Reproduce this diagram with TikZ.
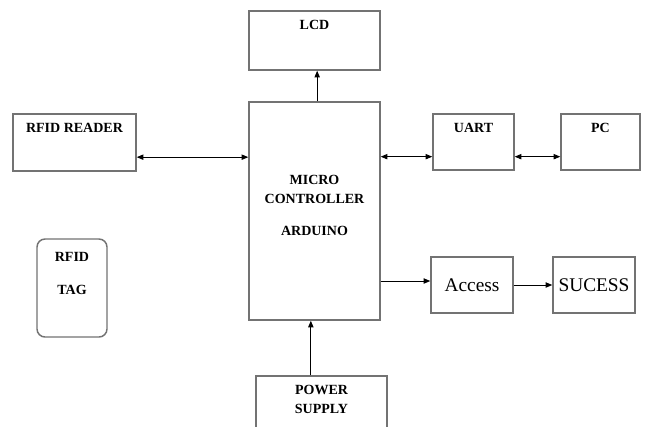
\documentclass[tikz,border=0pt]{standalone}
\usepackage{fontspec}
\setmainfont{Liberation Serif}
\usetikzlibrary{arrows.meta}
\definecolor{boxgray}{RGB}{115,115,115}

\begin{document}
\begin{tikzpicture}[x=0.75pt, y=-0.75pt,
  blk/.style = {draw=boxgray, line width=1.1pt, rectangle, inner sep=0pt},
  lbl/.style = {font=\bfseries\fontsize{10.5}{14.25}\selectfont, align=center, inner sep=0pt},
  big/.style = {font=\fontsize{14.5}{17}\selectfont},
  arr/.style = {-{Triangle[length=5pt,width=4pt]}, line width=0.7pt},
  darr/.style = {{Triangle[length=5pt,width=4pt]}-{Triangle[length=5pt,width=4pt]}, line width=0.7pt}]
\useasboundingbox (0,0) rectangle (646,426);
\fill[white] (0,0) rectangle (646,426);
\clip (0,0) rectangle (646,426);
\node[blk, minimum width=98.25pt, minimum height=44.25pt, label={[lbl, below=7pt]north:LCD}] (lcd) at (314.5,40.5) {};
\node[blk, minimum width=98.25pt, minimum height=163.5pt, label={[lbl, below=55pt]north:MICRO\\CONTROLLER\\[9.75pt]ARDUINO}] (mcu) at (314.5,211) {};
\node[blk, minimum width=92.25pt, minimum height=42.75pt, label={[lbl, below=7.5pt]north:RFID READER}] (rdr) at (74.5,142.5) {};
\node[blk, minimum width=60.75pt, minimum height=42pt, label={[lbl, below=7.5pt]north:UART}] (uart) at (473.5,142) {};
\node[blk, minimum width=59.25pt, minimum height=42pt, label={[lbl, below=7.5pt]north:PC}] (pc) at (600.5,142) {};
\node[blk, big, minimum width=61.5pt, minimum height=42pt] (acc) at (472,285) {Access};
\node[blk, big, minimum width=61.5pt, minimum height=42pt] (suc) at (594,285) {SUCESS};
\node[blk, rounded corners=6pt, minimum width=52.5pt, minimum height=73.5pt, label={[lbl, below=10pt, font=\bfseries\fontsize{10.5}{25}\selectfont]north:RFID\\TAG}] (tag) at (72,288) {};
\node[blk, minimum width=98.25pt, minimum height=48pt, label={[lbl, below=7pt]north:POWER\\SUPPLY}] (pwr) at (321.5,408) {};
% connections
\draw[arr] ([xshift=2pt]mcu.north) -- ([xshift=2pt]lcd.south);
\coordinate (r1) at ([yshift=-11pt]rdr.east);
\draw[darr] (r1) -- (r1 -| mcu.west);
\coordinate (u1) at ([yshift=-11pt]uart.west);
\draw[darr] (u1 -| mcu.east) -- (u1);
\draw[darr] ([yshift=-11pt]uart.east) -- ([yshift=-11pt]pc.west);
\coordinate (a1) at ([yshift=3pt]acc.west);
\draw[arr] (a1 -| mcu.east) -- (a1);
\draw[arr] (acc) -- (suc);
\coordinate (p1) at ([xshift=-8pt]pwr.north);
\draw[arr] (p1) -- (p1 |- mcu.south);
\end{tikzpicture}
\end{document}
